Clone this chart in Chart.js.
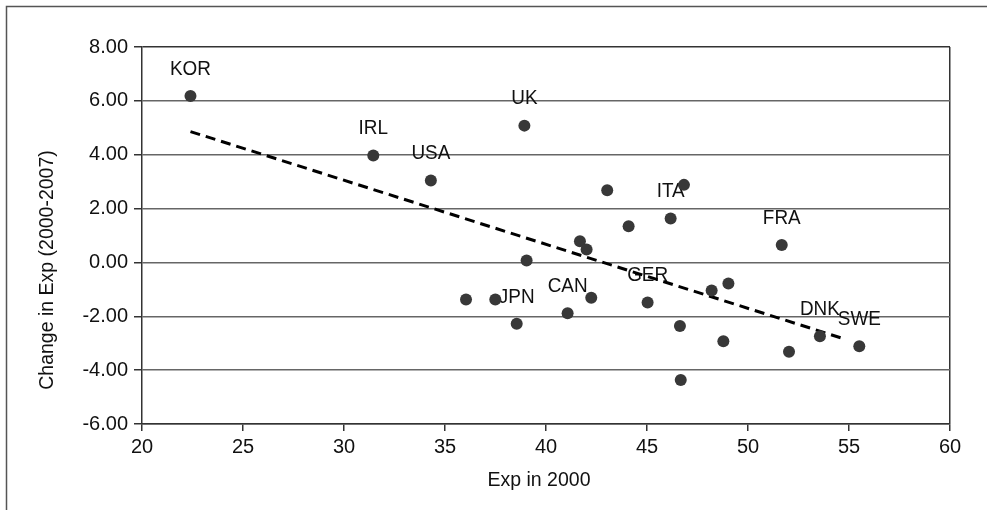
<!DOCTYPE html>
<html>
<head>
<meta charset="utf-8">
<script src="https://cdn.jsdelivr.net/npm/chart.js@4.4.1/dist/chart.umd.min.js"></script>
<style>
html,body{margin:0;padding:0;background:#fff;}
canvas{display:block;}
</style>
</head>
<body>
<canvas id="c" width="987" height="510"></canvas>
<script>
// ---- data ----
const pointLabels = ['KOR','IRL','USA','UK','','','','','','ITA','FRA','','','','JPN','CAN','','GER','','','','','','DNK','SWE',''];
const xValues = [22.4,31.45,34.3,38.93,43.03,44.09,41.68,42.01,46.83,46.17,51.67,39.04,36.04,37.49,38.55,41.07,42.24,45.03,48.2,49.03,46.63,48.78,52.03,53.56,55.51,46.67];
const yValues = [6.18,3.97,3.04,5.08,2.68,1.34,0.79,0.48,2.88,1.63,0.65,0.07,-1.38,-1.38,-2.28,-1.89,-1.31,-1.49,-1.04,-0.78,-2.36,-2.93,-3.32,-2.74,-3.11,-4.37];
const trendX = [22.4, 54.6];
const trendY = [4.86, -2.80];
const xTickValues = [20,25,30,35,40,45,50,55,60];
const xTickLabels = ['20','25','30','35','40','45','50','55','60'];
const yTickValues = [-6,-4,-2,0,2,4,6,8];
const yTickLabels = ['-6.00','-4.00','-2.00','0.00','2.00','4.00','6.00','8.00'];
const xTitle = 'Exp in 2000';
const yTitle = 'Change in Exp (2000-2007)';

const FONT = "'Liberation Sans', Arial, Helvetica, sans-serif";
const points = xValues.map((x,i)=>({x:x, y:yValues[i]}));
const trend = trendX.map((x,i)=>({x:x, y:trendY[i]}));

const decor = {
  id:'decor',
  beforeDatasetsDraw(chart){
    const ctx = chart.ctx, xs = chart.scales.x, ys = chart.scales.y;
    ctx.save();
    ctx.font = '21px ' + FONT;
    ctx.fillStyle = '#111';
    ctx.textAlign = 'center';
    ctx.textBaseline = 'middle';
    pointLabels.forEach((lab,i)=>{
      if(!lab) return;
      const px = xs.getPixelForValue(xValues[i]);
      const py = ys.getPixelForValue(yValues[i]);
      ctx.save();
      ctx.translate(px, py - 27);
      ctx.scale(0.9, 1);
      ctx.fillText(lab, 0, 0);
      ctx.restore();
    });
    ctx.restore();
  },
  afterDraw(chart){
    const ctx = chart.ctx, a = chart.chartArea;
    ctx.save();
    // outer frame
    ctx.strokeStyle = '#555';
    ctx.lineWidth = 1.5;
    ctx.beginPath();
    ctx.moveTo(6.5, 510);
    ctx.lineTo(6.5, 6.5);
    ctx.lineTo(987, 6.5);
    ctx.stroke();
    // axis titles
    ctx.font = '19.5px ' + FONT;
    ctx.fillStyle = '#111';
    ctx.textAlign = 'center';
    ctx.textBaseline = 'middle';
    ctx.fillText(xTitle, (a.left + a.right)/2 - 7, 481);
    ctx.translate(48, 270);
    ctx.rotate(-Math.PI/2);
    ctx.fillText(yTitle, 0, 0);
    ctx.restore();
  }
};

new Chart(document.getElementById('c'), {
  type:'scatter',
  data:{
    datasets:[
      {
        label:'countries',
        data:points,
        pointRadius:6,
        pointHoverRadius:6,
        pointBackgroundColor:'#383838',
        pointBorderColor:'#383838',
        pointBorderWidth:0,
        showLine:false,
        order:1
      },
      {
        label:'trend',
        type:'line',
        data:trend,
        showLine:true,
        borderColor:'#000',
        borderWidth:3,
        borderDash:[10,6],
        pointRadius:0,
        fill:false,
        order:2
      }
    ]
  },
  options:{
    responsive:false,
    devicePixelRatio:1,
    animation:false,
    events:[],
    layout:{padding:{left:0, top:47, right:37, bottom:0}},
    plugins:{legend:{display:false}, tooltip:{enabled:false}, title:{display:false}},
    scales:{
      x:{
        type:'linear',
        min:20, max:60,
        afterBuildTicks(scale){ scale.ticks = xTickValues.map(v=>({value:v})); },
        afterFit(scale){ scale.height = 86; },
        ticks:{
          callback:(v)=>{ const i = xTickValues.indexOf(v); return i>=0 ? xTickLabels[i] : ''; },
          font:{family:FONT, size:20},
          color:'#111',
          padding:4,
          maxRotation:0,
          autoSkip:false
        },
        grid:{
          color:(c)=> (c.tick && c.tick.value===60) ? '#333' : 'rgba(0,0,0,0)',
          tickColor:'#333',
          tickLength:7,
          lineWidth:1.5,
          drawTicks:true
        },
        border:{display:true, color:'#333', width:1.5}
      },
      y:{
        type:'linear',
        min:-6, max:8,
        afterBuildTicks(scale){ scale.ticks = yTickValues.map(v=>({value:v})); },
        afterFit(scale){ scale.width = 142; },
        ticks:{
          callback:(v)=>{ const i = yTickValues.indexOf(v); return i>=0 ? yTickLabels[i] : ''; },
          font:{family:FONT, size:20},
          color:'#111',
          padding:6,
          autoSkip:false
        },
        grid:{
          color:(c)=> (c.tick && c.tick.value===8) ? '#333' : '#666',
          tickColor:'#333',
          tickLength:8,
          lineWidth:1.5
        },
        border:{display:true, color:'#333', width:1.5}
      }
    }
  },
  plugins:[decor]
});
</script>
</body>
</html>
